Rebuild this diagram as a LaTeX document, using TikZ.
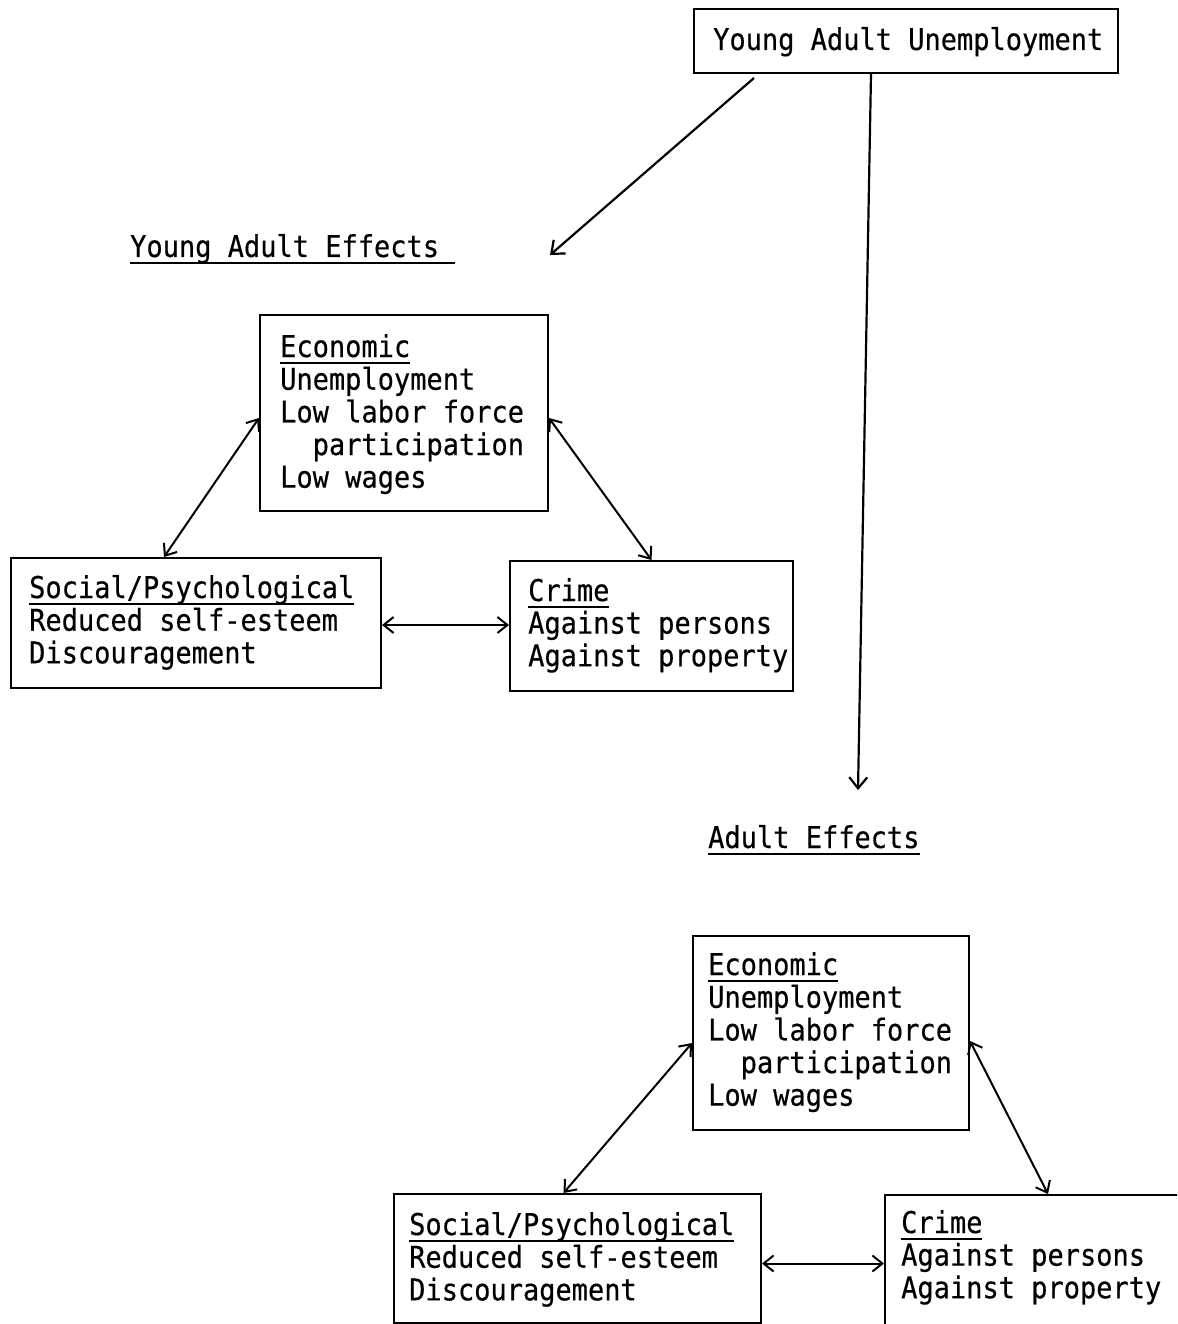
\documentclass[tikz,border=0pt]{standalone}
\usepackage{fontspec}
\newfontfamily\twfont[FakeStretch=0.9,FakeBold=0.4]{DejaVu Sans Mono}
\usetikzlibrary{arrows.meta}
\newcommand\ulline[1]{\setbox0\hbox{#1}\rlap{\rule[-7pt]{\wd0}{1.8pt}}\box0}
\tikzset{
  box/.style={draw, line width=2pt, rectangle, inner sep=0pt, anchor=north west},
  txt/.style={anchor=base west, inner sep=0pt, font=\twfont\fontsize{30}{32.6}\selectfont},
  conn/.style={line width=2pt, {Straight Barb[length=10pt,width=16pt]}-{Straight Barb[length=10pt,width=16pt]}},
  oneway/.style={line width=2.2pt, -{Straight Barb[length=11pt,width=18pt]}}
}
\begin{document}
\begin{tikzpicture}[x=1pt,y=-1pt]
\clip (0,0) rectangle (1177,1324);
\fill[white] (0,0) rectangle (1177,1324);
% top box
\node[box, minimum width=424pt, minimum height=64pt] (top) at (693,8) {};
\node[txt] (topt) at (713,50) {Young Adult Unemployment};
% headings
\node[txt] (yah) at (130,257) {\ulline{Young Adult Effects\ }};
\node[txt] (adh) at (708,848) {\ulline{Adult Effects}};
\coordinate (ya) at (550,255);
\coordinate (ae) at (858,790);
\draw[oneway] ([xshift=-152pt,yshift=-4pt]top.south) -- (ya);
\draw[oneway] ([xshift=-35pt]top.south) -- (ae);
% young adult boxes
\node[box, minimum width=288pt, minimum height=196pt] (econ) at (259,314) {};
\node[txt] (econt) at (280,357) {\begin{tabular}[t]{@{}l@{}}\ulline{Economic}\\Unemployment\\Low labor force\\\phantom{xx}participation\\Low wages\end{tabular}};
\node[box, minimum width=370pt, minimum height=130pt] (soc) at (10,557) {};
\node[txt] (soct) at (29,598) {\begin{tabular}[t]{@{}l@{}}\ulline{Social/Psychological}\\Reduced self-esteem\\Discouragement\end{tabular}};
\node[box, minimum width=283pt, minimum height=130pt] (crime) at (509,560) {};
\node[txt] (crimet) at (528,601) {\begin{tabular}[t]{@{}l@{}}\ulline{Crime}\\Against persons\\Against property\end{tabular}};
\draw[conn] ([yshift=-5pt]econ.west) -- ([xshift=-32pt]soc.north);
\draw[conn] ([yshift=-5pt]econ.east) -- (crime.north);
\draw[conn] ([yshift=-2pt]soc.east) -- ([yshift=-2pt]crime.west |- soc.east);
% adult boxes
\node[box, minimum width=276pt, minimum height=194pt] (econ2) at (692,935) {};
\node[txt] (econ2t) at (708,975) {\begin{tabular}[t]{@{}l@{}}\ulline{Economic}\\Unemployment\\Low labor force\\\phantom{xx}participation\\Low wages\end{tabular}};
\node[box, minimum width=367pt, minimum height=129pt] (soc2) at (393,1193) {};
\node[txt] (soc2t) at (409,1235) {\begin{tabular}[t]{@{}l@{}}\ulline{Social/Psychological}\\Reduced self-esteem\\Discouragement\end{tabular}};
\node[box, minimum width=300pt, minimum height=135pt] (crime2) at (884,1194) {};
\node[txt] (crime2t) at (901,1233) {\begin{tabular}[t]{@{}l@{}}\ulline{Crime}\\Against persons\\Against property\end{tabular}};
\draw[conn] ([yshift=-10pt]econ2.west) -- ([xshift=-14pt]soc2.north);
\draw[conn] ([yshift=-8pt]econ2.east) -- ([xshift=13pt]crime2.north);
\draw[conn] ([yshift=-5pt]soc2.east) -- ([yshift=-5pt]crime2.west |- soc2.east);
\end{tikzpicture}
\end{document}
